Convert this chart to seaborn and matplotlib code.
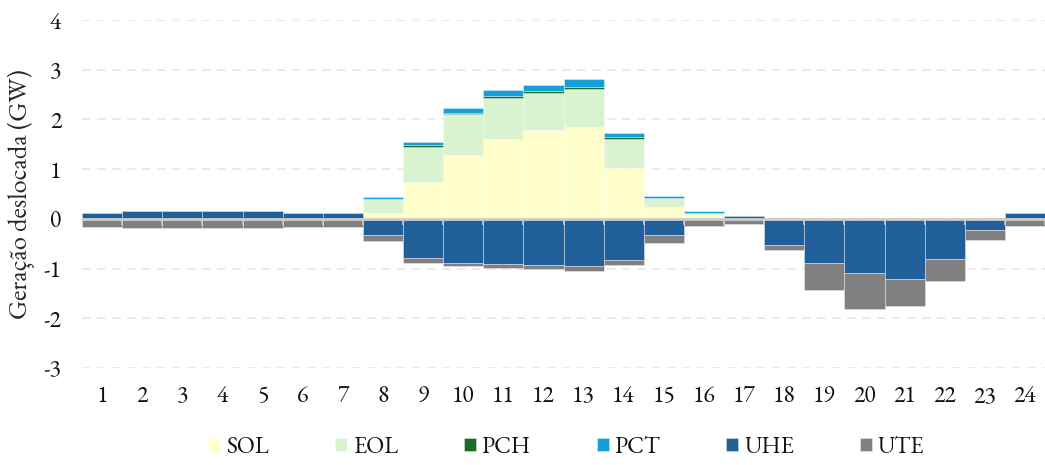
import numpy as np
import pandas as pd
import seaborn as sns
import matplotlib
matplotlib.use("Agg")
import matplotlib.pyplot as plt


# =========================
# DADOS (GW)
# =========================

hours = list(range(1, 25))

sol = [0, 0, 0, 0, 0, 0, 0, 0.12, 0.74, 1.29, 1.61, 1.78,
       1.84, 1.03, 0.24, 0.08, 0, 0, 0, 0, 0, 0, 0, 0]
eol = [0, 0, 0, 0, 0, 0, 0, 0.27, 0.71, 0.81, 0.82, 0.75,
       0.77, 0.58, 0.17, 0.04, 0, 0, 0, 0, 0, 0, 0, 0]
pch = [0, 0, 0, 0, 0, 0, 0, 0.01, 0.03, 0.03, 0.05, 0.05,
       0.05, 0.03, 0.01, 0.005, 0, 0, 0, 0, 0, 0, 0, 0]
pct = [0, 0, 0, 0, 0, 0, 0, 0.03, 0.07, 0.10, 0.11, 0.11,
       0.15, 0.08, 0.03, 0.03, 0, 0.02, 0, 0, 0, 0, 0, 0]
uhe = [0.12, 0.16, 0.16, 0.16, 0.16, 0.12, 0.12, -0.33, -0.78, -0.89, -0.91, -0.93,
       -0.94, -0.82, -0.33, 0, 0.06, -0.53, -0.88, -1.08, -1.20, -0.81, -0.23, 0.12]
ute = [-0.16, -0.19, -0.19, -0.19, -0.19, -0.16, -0.16, -0.12, -0.11, -0.05, -0.07, -0.08,
       -0.10, -0.10, -0.16, -0.15, -0.10, -0.09, -0.55, -0.74, -0.56, -0.43, -0.19, -0.15]

series_names = ["SOL", "EOL", "PCH", "PCT", "UHE", "UTE"]
series_colors = ["#FFFFCC", "#D9F2D0", "#1E6B24", "#139FD8", "#215F9A", "#808080"]

df = pd.DataFrame(
    {"SOL": sol, "EOL": eol, "PCH": pch, "PCT": pct, "UHE": uhe, "UTE": ute},
    index=hours,
)


# =========================
# ESTILO
# =========================

sns.set_theme(style="white")
plt.rcParams["font.family"] = ["EB Garamond", "Liberation Serif", "DejaVu Serif"]
plt.rcParams["axes.unicode_minus"] = False
plt.rcParams["text.color"] = "#111111"
plt.rcParams["xtick.color"] = "#111111"
plt.rcParams["ytick.color"] = "#111111"

FONT_SIZE = 17

fig = plt.figure(figsize=(10.45, 4.65), dpi=100)
ax = fig.add_axes([0.0785, 0.2086, 0.9215, 0.7484])

# barras empilhadas: positivos para cima, negativos para baixo
pos_bottom = np.zeros(len(hours))
neg_bottom = np.zeros(len(hours))
x = np.array(hours)

for name, color in zip(series_names, series_colors):
    values = df[name].to_numpy(dtype=float)
    bottom = np.where(values >= 0, pos_bottom, neg_bottom)
    ax.bar(x, values, bottom=bottom, width=1.0, color=color,
           edgecolor=(1, 1, 1, 0.5), linewidth=0.5, label=name, zorder=2)
    pos_bottom = pos_bottom + np.clip(values, 0, None)
    neg_bottom = neg_bottom + np.clip(values, None, 0)

# eixos e grade
ax.set_xlim(0.5, 24.5)
ax.set_ylim(-3, 4)
ax.set_yticks(range(-3, 5))
ax.set_xticks(hours)
ax.set_xticklabels([str(h) for h in hours])
ax.yaxis.grid(True, color="#e6e6e6", linestyle=(0, (5, 4)), linewidth=1.2)
ax.set_axisbelow(True)

ax.axhline(0, color="#cccccc", linewidth=2.0, zorder=3)
ax.vlines(np.arange(0.5, 25.5, 1), -0.12, 0, color="#cccccc", linewidth=1.2, zorder=3)

ax.tick_params(axis="x", length=0, pad=12, labelsize=FONT_SIZE)
ax.tick_params(axis="y", length=0, pad=15, labelsize=FONT_SIZE)

ax.set_ylabel("Geração deslocada (GW)", fontsize=19)
ax.yaxis.set_label_coords(-0.049, 0.5)

sns.despine(ax=ax, left=True, bottom=True)

ax.legend(
    loc="center",
    bbox_to_anchor=(0.542, 0.037),
    bbox_transform=fig.transFigure,
    ncol=6,
    frameon=False,
    fontsize=FONT_SIZE,
    handlelength=0.5,
    handleheight=0.5,
    handletextpad=0.25,
    columnspacing=2.8,
)

plt.savefig("out.png", dpi=100)
plt.close()
